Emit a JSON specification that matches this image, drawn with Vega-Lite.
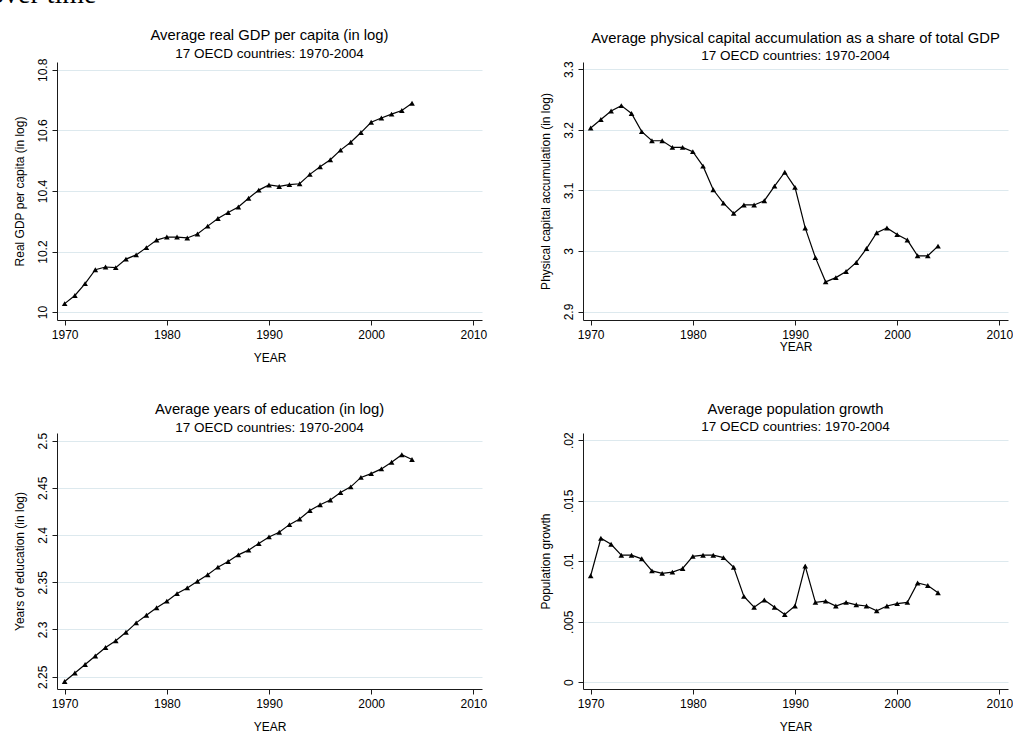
{
  "$schema": "https://vega.github.io/schema/vega-lite/v6.json",
  "padding": {"left": -10, "top": -20, "right": 0, "bottom": 0},
  "background": "white",
  "title": {"text": "over time", "anchor": "start", "frame": "bounds", "font": "Liberation Serif", "fontSize": 28, "fontWeight": "normal", "color": "#000", "offset": 19, "dx": -23},
  "datasets": {
    "d": [
      {"year": 1970, "gdp": 10.028, "cap": 3.203, "edu": 2.245, "pop": 0.0088},
      {"year": 1971, "gdp": 10.055, "cap": 3.217, "edu": 2.254, "pop": 0.0119},
      {"year": 1972, "gdp": 10.094, "cap": 3.231, "edu": 2.263, "pop": 0.0114},
      {"year": 1973, "gdp": 10.14, "cap": 3.24, "edu": 2.272, "pop": 0.0105},
      {"year": 1974, "gdp": 10.149, "cap": 3.227, "edu": 2.281, "pop": 0.0105},
      {"year": 1975, "gdp": 10.147, "cap": 3.197, "edu": 2.288, "pop": 0.0102},
      {"year": 1976, "gdp": 10.175, "cap": 3.182, "edu": 2.297, "pop": 0.0092},
      {"year": 1977, "gdp": 10.189, "cap": 3.182, "edu": 2.307, "pop": 0.009},
      {"year": 1978, "gdp": 10.213, "cap": 3.171, "edu": 2.315, "pop": 0.0091},
      {"year": 1979, "gdp": 10.238, "cap": 3.171, "edu": 2.323, "pop": 0.0094},
      {"year": 1980, "gdp": 10.248, "cap": 3.164, "edu": 2.33, "pop": 0.0104},
      {"year": 1981, "gdp": 10.248, "cap": 3.14, "edu": 2.338, "pop": 0.0105},
      {"year": 1982, "gdp": 10.245, "cap": 3.101, "edu": 2.344, "pop": 0.0105},
      {"year": 1983, "gdp": 10.258, "cap": 3.079, "edu": 2.351, "pop": 0.0103},
      {"year": 1984, "gdp": 10.284, "cap": 3.062, "edu": 2.358, "pop": 0.0095},
      {"year": 1985, "gdp": 10.309, "cap": 3.076, "edu": 2.366, "pop": 0.0071},
      {"year": 1986, "gdp": 10.329, "cap": 3.076, "edu": 2.372, "pop": 0.0062},
      {"year": 1987, "gdp": 10.347, "cap": 3.083, "edu": 2.379, "pop": 0.0068},
      {"year": 1988, "gdp": 10.376, "cap": 3.107, "edu": 2.384, "pop": 0.0062},
      {"year": 1989, "gdp": 10.403, "cap": 3.13, "edu": 2.391, "pop": 0.0056},
      {"year": 1990, "gdp": 10.42, "cap": 3.105, "edu": 2.398, "pop": 0.0063},
      {"year": 1991, "gdp": 10.415, "cap": 3.038, "edu": 2.403, "pop": 0.0096},
      {"year": 1992, "gdp": 10.421, "cap": 2.989, "edu": 2.411, "pop": 0.0066},
      {"year": 1993, "gdp": 10.424, "cap": 2.949, "edu": 2.417, "pop": 0.0067},
      {"year": 1994, "gdp": 10.455, "cap": 2.956, "edu": 2.426, "pop": 0.0063},
      {"year": 1995, "gdp": 10.48, "cap": 2.966, "edu": 2.432, "pop": 0.0066},
      {"year": 1996, "gdp": 10.503, "cap": 2.981, "edu": 2.437, "pop": 0.0064},
      {"year": 1997, "gdp": 10.535, "cap": 3.004, "edu": 2.445, "pop": 0.0063},
      {"year": 1998, "gdp": 10.561, "cap": 3.03, "edu": 2.451, "pop": 0.0059},
      {"year": 1999, "gdp": 10.593, "cap": 3.038, "edu": 2.461, "pop": 0.0063},
      {"year": 2000, "gdp": 10.627, "cap": 3.027, "edu": 2.465, "pop": 0.0065},
      {"year": 2001, "gdp": 10.641, "cap": 3.018, "edu": 2.47, "pop": 0.0066},
      {"year": 2002, "gdp": 10.654, "cap": 2.992, "edu": 2.477, "pop": 0.0082},
      {"year": 2003, "gdp": 10.666, "cap": 2.992, "edu": 2.485, "pop": 0.008},
      {"year": 2004, "gdp": 10.69, "cap": 3.008, "edu": 2.48, "pop": 0.0074}
    ]
  },
  "data": {"name": "d"},
  "columns": 2,
  "spacing": {"row": 38, "column": 52},
  "concat": [
    {
      "width": 425, "height": 258,
      "title": {"text": "Average real GDP per capita (in log)", "subtitle": "17 OECD countries: 1970-2004"},
      "encoding": {
        "x": {"field": "year", "type": "quantitative", "scale": {"domain": [1969.25, 2010.85], "nice": false, "zero": false}, "axis": {"values": [1970, 1980, 1990, 2000, 2010], "format": "d", "title": "YEAR"}},
        "y": {"field": "gdp", "type": "quantitative", "scale": {"domain": [9.974, 10.826], "nice": false, "zero": false}, "axis": {"values": [10, 10.2, 10.4, 10.6, 10.8], "format": ".1~f", "title": "Real GDP per capita (in log)"}}
      },
      "layer": [
        {"mark": {"type": "line", "color": "#000", "strokeWidth": 1.2}},
        {"mark": {"type": "point", "shape": "triangle-up", "filled": true, "color": "#000", "opacity": 1, "size": 32}}
      ]
    },
    {
      "width": 425, "height": 258,
      "title": {"text": "Average physical capital accumulation as a share of total GDP", "subtitle": "17 OECD countries: 1970-2004"},
      "encoding": {
        "x": {"field": "year", "type": "quantitative", "scale": {"domain": [1969.25, 2010.85], "nice": false, "zero": false}, "axis": {"values": [1970, 1980, 1990, 2000, 2010], "format": "d", "title": "YEAR", "titlePadding": 1}},
        "y": {"field": "cap", "type": "quantitative", "scale": {"domain": [2.886, 3.312], "nice": false, "zero": false}, "axis": {"values": [2.9, 3.0, 3.1, 3.2, 3.3], "format": ".1~f", "title": "Physical capital accumulation (in log)"}}
      },
      "layer": [
        {"mark": {"type": "line", "color": "#000", "strokeWidth": 1.2}},
        {"mark": {"type": "point", "shape": "triangle-up", "filled": true, "color": "#000", "opacity": 1, "size": 32}}
      ]
    },
    {
      "width": 425, "height": 256,
      "title": {"text": "Average years of education (in log)", "subtitle": "17 OECD countries: 1970-2004"},
      "encoding": {
        "x": {"field": "year", "type": "quantitative", "scale": {"domain": [1969.25, 2010.85], "nice": false, "zero": false}, "axis": {"values": [1970, 1980, 1990, 2000, 2010], "format": "d", "title": "YEAR"}},
        "y": {"field": "edu", "type": "quantitative", "scale": {"domain": [2.237, 2.508], "nice": false, "zero": false}, "axis": {"values": [2.25, 2.3, 2.35, 2.4, 2.45, 2.5], "format": ".2~f", "title": "Years of education (in log)"}}
      },
      "layer": [
        {"mark": {"type": "line", "color": "#000", "strokeWidth": 1.2}},
        {"mark": {"type": "point", "shape": "triangle-up", "filled": true, "color": "#000", "opacity": 1, "size": 32}}
      ]
    },
    {
      "width": 425, "height": 256,
      "title": {"text": "Average population growth", "subtitle": "17 OECD countries: 1970-2004"},
      "encoding": {
        "x": {"field": "year", "type": "quantitative", "scale": {"domain": [1969.25, 2010.85], "nice": false, "zero": false}, "axis": {"values": [1970, 1980, 1990, 2000, 2010], "format": "d", "title": "YEAR"}},
        "y": {"field": "pop", "type": "quantitative", "scale": {"domain": [-0.00056, 0.0206], "nice": false, "zero": false}, "axis": {"values": [0, 0.005, 0.01, 0.015, 0.02], "labelExpr": "datum.value == 0 ? '0' : substring(format(datum.value, '.3~f'), 1)", "title": "Population growth"}}
      },
      "layer": [
        {"mark": {"type": "line", "color": "#000", "strokeWidth": 1.2}},
        {"mark": {"type": "point", "shape": "triangle-up", "filled": true, "color": "#000", "opacity": 1, "size": 32}}
      ]
    }
  ],
  "config": {
    "view": {"stroke": null},
    "font": "Liberation Sans",
    "axis": {"domainColor": "#1a1a1a", "tickColor": "#1a1a1a", "labelColor": "#000", "titleColor": "#000", "labelFont": "Liberation Sans", "titleFont": "Liberation Sans", "labelFontSize": 12, "titleFontSize": 12, "titleFontWeight": "normal", "tickSize": 5, "labelPadding": 3, "gridColor": "#dde9ee", "gridWidth": 1},
    "axisX": {"grid": false, "titlePadding": 12, "labelPadding": 4},
    "axisY": {"grid": true, "labelAngle": -90, "titlePadding": 10},
    "title": {"font": "Liberation Sans", "fontSize": 14.8, "fontWeight": "normal", "subtitleFont": "Liberation Sans", "subtitleFontSize": 13.5, "color": "#000", "subtitleColor": "#000", "frame": "group", "anchor": "middle", "offset": -2, "subtitlePadding": 4}
  }
}
